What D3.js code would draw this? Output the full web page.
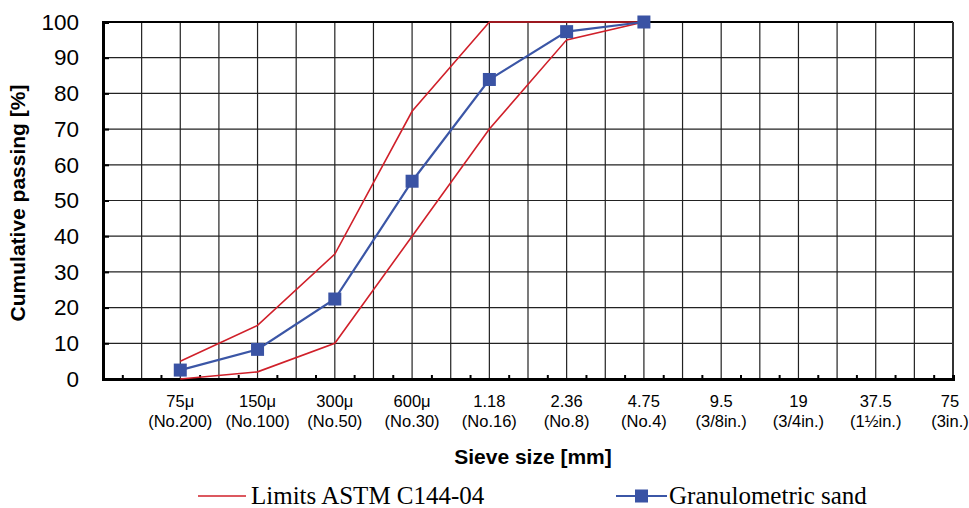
<!DOCTYPE html>
<html>
<head>
<meta charset="utf-8">
<script src="https://cdn.jsdelivr.net/npm/d3@7"></script>
<style>
  body { margin: 0; background: #fff; }
</style>
</head>
<body>
<script>
// sieve openings (mm / µ) and US sieve names
var sizes = ["75μ", "150μ", "300μ", "600μ", "1.18", "2.36", "4.75", "9.5", "19", "37.5", "75"];
var sieves = ["(No.200)", "(No.100)", "(No.50)", "(No.30)", "(No.16)", "(No.8)", "(No.4)", "(3/8in.)", "(3/4in.)", "(1½in.)", "(3in.)"];

// ASTM C144-04 limits, 75μ .. 4.75
var lowerLimit = [0, 2, 10, 40, 70, 95, 100];
var upperLimit = [5, 15, 35, 75, 100, 100, 100];

// measured sand
var sand = [2.5, 8.3, 22.4, 55.4, 83.9, 97.3, 100];

var yTicks = [0, 10, 20, 30, 40, 50, 60, 70, 80, 90, 100];

var width = 969, height = 508;
var pLeft = 103, pRight = 953, pTop = 22, pBottom = 379;

var svg = d3.select("body")
    .append("svg")
    .attr("width", width)
    .attr("height", height);

var x = d3.scaleLinear()
    .domain([-1, sizes.length - 1])
    .range([pLeft, pRight]);

var y = d3.scaleLinear()
    .domain([0, 100])
    .range([pBottom, pTop]);

// grid
var vLines = d3.range(-0.5, sizes.length - 1, 0.5);
svg.append("g")
    .selectAll("line")
    .data(vLines)
    .enter()
    .append("line")
    .attr("x1", d => x(d)).attr("x2", d => x(d))
    .attr("y1", pTop).attr("y2", pBottom)
    .attr("stroke", "#222")
    .attr("stroke-width", 1.2);

svg.append("g")
    .selectAll("line")
    .data(yTicks.slice(1, -1))
    .enter()
    .append("line")
    .attr("x1", pLeft).attr("x2", pRight)
    .attr("y1", d => y(d)).attr("y2", d => y(d))
    .attr("stroke", "#222")
    .attr("stroke-width", 1.2);

// frame
svg.append("line")
    .attr("x1", pLeft).attr("x2", pRight)
    .attr("y1", pTop).attr("y2", pTop)
    .attr("stroke", "#000").attr("stroke-width", 2);
svg.append("line")
    .attr("x1", pRight).attr("x2", pRight)
    .attr("y1", pTop).attr("y2", pBottom)
    .attr("stroke", "#333").attr("stroke-width", 2);

// y axis
var yAxis = d3.axisLeft(y)
    .tickValues(yTicks)
    .tickSize(-6)
    .tickPadding(24);
var gy = svg.append("g")
    .attr("transform", "translate(" + pLeft + ",0)")
    .call(yAxis);
gy.select(".domain").attr("stroke", "#000").attr("stroke-width", 3);
gy.selectAll(".tick line").attr("stroke", "#000").attr("stroke-width", 2);
gy.selectAll(".tick text")
    .style("font-family", "'Liberation Sans', Arial, sans-serif")
    .style("font-size", "22.5px")
    .attr("fill", "#000");

// x axis (minor ticks between grid lines)
var xTickVals = d3.range(-0.75, sizes.length - 1, 0.5);
var xAxis = d3.axisBottom(x)
    .tickValues(xTickVals)
    .tickSize(-4)
    .tickFormat("");
var gx = svg.append("g")
    .attr("transform", "translate(0," + pBottom + ")")
    .call(xAxis);
gx.select(".domain").attr("stroke", "#000").attr("stroke-width", 3);
gx.selectAll(".tick line").attr("stroke", "#000").attr("stroke-width", 2);

// x category labels
var labels = svg.append("g")
    .selectAll("text")
    .data(sizes)
    .enter()
    .append("text")
    .attr("text-anchor", "middle")
    .attr("transform", (d, i) => i == sizes.length - 1 ? "translate(-3,0)" : null)
    .style("font-family", "'Liberation Sans', Arial, sans-serif")
    .style("font-size", "16.5px")
    .attr("fill", "#000");
labels.append("tspan")
    .attr("x", (d, i) => x(i))
    .attr("y", 407)
    .text(d => d);
labels.append("tspan")
    .attr("x", (d, i) => x(i))
    .attr("y", 427)
    .text((d, i) => sieves[i]);

// limits
var line = d3.line()
    .x((d, i) => x(i))
    .y(d => y(d));

[lowerLimit, upperLimit].forEach(function (s) {
    svg.append("path")
        .datum(s)
        .attr("d", line)
        .attr("fill", "none")
        .attr("stroke", "#d0202a")
        .attr("stroke-width", 1.6);
});

// sand
svg.append("path")
    .datum(sand)
    .attr("d", line)
    .attr("fill", "none")
    .attr("stroke", "#3b56a6")
    .attr("stroke-width", 2.2);

svg.append("g")
    .selectAll("rect")
    .data(sand)
    .enter()
    .append("rect")
    .attr("x", (d, i) => x(i) - 6.5)
    .attr("y", d => y(d) - 6.5)
    .attr("width", 13)
    .attr("height", 13)
    .attr("fill", "#3a53a4");

// Y label
svg.append("text")
    .attr("text-anchor", "middle")
    .attr("transform", "translate(25,203)rotate(-90)")
    .style("font-family", "'Liberation Sans', Arial, sans-serif")
    .style("font-weight", "bold")
    .style("font-size", "21px")
    .text("Cumulative passing [%]");

// X label
svg.append("text")
    .attr("x", 533)
    .attr("y", 464)
    .attr("text-anchor", "middle")
    .style("font-family", "'Liberation Sans', Arial, sans-serif")
    .style("font-weight", "bold")
    .style("font-size", "21px")
    .text("Sieve size [mm]");

// legend
var lg = svg.append("g")
    .style("font-family", "'Liberation Serif', 'Times New Roman', serif")
    .style("font-size", "25px");

lg.append("line")
    .attr("x1", 198).attr("x2", 246)
    .attr("y1", 496).attr("y2", 496)
    .attr("stroke", "#d0202a").attr("stroke-width", 1.6);
lg.append("text")
    .attr("x", 251).attr("y", 504)
    .text("Limits ASTM C144-04");

lg.append("line")
    .attr("x1", 616).attr("x2", 667)
    .attr("y1", 496).attr("y2", 496)
    .attr("stroke", "#3b56a6").attr("stroke-width", 2.2);
lg.append("rect")
    .attr("x", 635).attr("y", 489.5)
    .attr("width", 13).attr("height", 13)
    .attr("fill", "#3a53a4");
lg.append("text")
    .attr("x", 669).attr("y", 504)
    .text("Granulometric sand");
</script>
</body>
</html>
